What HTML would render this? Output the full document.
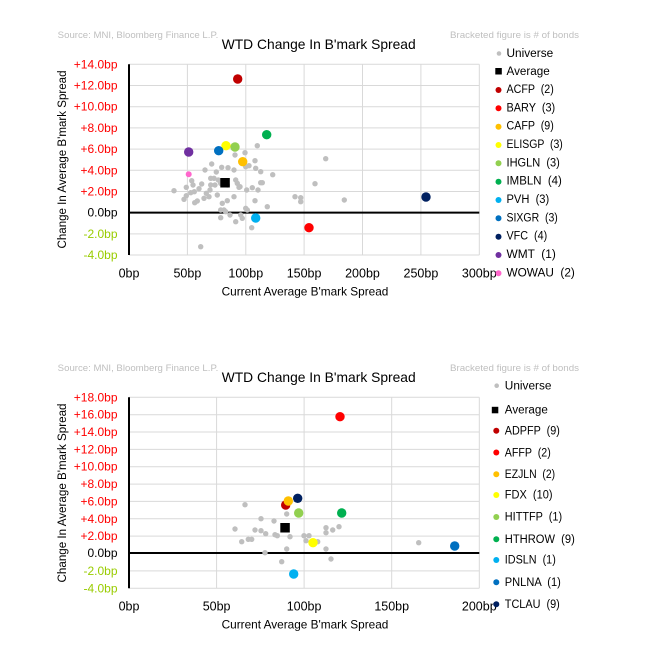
<!DOCTYPE html>
<html><head><meta charset="utf-8">
<style>
html,body{margin:0;padding:0;background:#fff;}
svg{display:block;}
text{font-family:"Liberation Sans",sans-serif;}
</style></head>
<body>
<svg width="649" height="663" viewBox="0 0 649 663" xmlns="http://www.w3.org/2000/svg">
<rect width="649" height="663" fill="#fff"/>

<!-- ================= CHART 1 ================= -->
<g>
<text x="57.7" y="35.3" font-size="9.5" fill="#BFBFBF" dominant-baseline="central" textLength="160.6" lengthAdjust="spacingAndGlyphs">Source: MNI, Bloomberg Finance L.P.</text>
<text x="450" y="35.3" font-size="9.5" fill="#BFBFBF" dominant-baseline="central" textLength="129" lengthAdjust="spacingAndGlyphs">Bracketed figure is # of bonds</text>
<text x="221.7" y="44" font-size="14" fill="#000" dominant-baseline="central" textLength="194" lengthAdjust="spacingAndGlyphs">WTD Change In B'mark Spread</text>

<!-- grid -->
<g stroke="#D9D9D9" stroke-width="1">
<line x1="129" y1="64.3" x2="479.3" y2="64.3"/>
<line x1="129" y1="85.5" x2="479.3" y2="85.5"/>
<line x1="129" y1="106.7" x2="479.3" y2="106.7"/>
<line x1="129" y1="127.9" x2="479.3" y2="127.9"/>
<line x1="129" y1="149.1" x2="479.3" y2="149.1"/>
<line x1="129" y1="170.3" x2="479.3" y2="170.3"/>
<line x1="129" y1="191.5" x2="479.3" y2="191.5"/>
<line x1="129" y1="233.9" x2="479.3" y2="233.9"/>
<line x1="129" y1="255" x2="479.3" y2="255"/>
<line x1="187.4" y1="64.3" x2="187.4" y2="255"/>
<line x1="245.8" y1="64.3" x2="245.8" y2="255"/>
<line x1="304.1" y1="64.3" x2="304.1" y2="255"/>
<line x1="362.5" y1="64.3" x2="362.5" y2="255"/>
<line x1="420.9" y1="64.3" x2="420.9" y2="255"/>
<line x1="479.3" y1="64.3" x2="479.3" y2="255"/>
</g>
<line x1="129" y1="212.6" x2="479.3" y2="212.6" stroke="#000" stroke-width="2"/>
<line x1="129" y1="64.3" x2="129" y2="255" stroke="#000" stroke-width="2"/>

<!-- y labels -->
<g font-size="12" text-anchor="end" dominant-baseline="central">
<text x="117.5" y="64.3" fill="#FF0000">+14.0bp</text>
<text x="117.5" y="85.5" fill="#FF0000">+12.0bp</text>
<text x="117.5" y="106.7" fill="#FF0000">+10.0bp</text>
<text x="117.5" y="127.9" fill="#FF0000">+8.0bp</text>
<text x="117.5" y="149.1" fill="#FF0000">+6.0bp</text>
<text x="117.5" y="170.3" fill="#FF0000">+4.0bp</text>
<text x="117.5" y="191.5" fill="#FF0000">+2.0bp</text>
<text x="117.5" y="212.6" fill="#000">0.0bp</text>
<text x="117.5" y="233.9" fill="#99CC00">-2.0bp</text>
<text x="117.5" y="255" fill="#99CC00">-4.0bp</text>
</g>
<!-- x labels -->
<g font-size="12.5" text-anchor="middle" dominant-baseline="central" fill="#000">
<text x="129" y="273.3">0bp</text>
<text x="187.4" y="273.3">50bp</text>
<text x="245.8" y="273.3">100bp</text>
<text x="304.1" y="273.3">150bp</text>
<text x="362.5" y="273.3">200bp</text>
<text x="420.9" y="273.3">250bp</text>
<text x="479.3" y="273.3">300bp</text>
</g>
<text x="305" y="292" font-size="11.7" text-anchor="middle" dominant-baseline="central" textLength="166.7" lengthAdjust="spacingAndGlyphs">Current Average B'mark Spread</text>
<text transform="translate(63,159.5) rotate(-90)" x="0" y="0" font-size="11.5" text-anchor="middle" dominant-baseline="central" textLength="178" lengthAdjust="spacingAndGlyphs">Change In Average B'mark Spread</text>

<!-- universe dots -->
<g fill="#BFBFBF">
<circle cx="174" cy="190.7" r="2.7"/><circle cx="184" cy="199.3" r="2.7"/><circle cx="186.3" cy="195.7" r="2.7"/><circle cx="186.3" cy="187.3" r="2.7"/>
<circle cx="190.7" cy="192.7" r="2.7"/><circle cx="191.7" cy="180.7" r="2.7"/><circle cx="193" cy="185" r="2.7"/><circle cx="194.3" cy="191.7" r="2.7"/>
<circle cx="194.7" cy="202.7" r="2.7"/><circle cx="197.3" cy="201" r="2.7"/><circle cx="199" cy="188.7" r="2.7"/><circle cx="201.7" cy="184" r="2.7"/>
<circle cx="204" cy="198.3" r="2.7"/><circle cx="206.3" cy="193.3" r="2.7"/><circle cx="209" cy="196.7" r="2.7"/><circle cx="210" cy="190" r="2.7"/>
<circle cx="205" cy="170" r="2.7"/><circle cx="211.7" cy="164" r="2.7"/><circle cx="216.3" cy="172" r="2.7"/><circle cx="210.7" cy="178.3" r="2.7"/>
<circle cx="214" cy="178.3" r="2.7"/><circle cx="215" cy="185" r="2.7"/><circle cx="210.7" cy="185" r="2.7"/><circle cx="217.3" cy="195" r="2.7"/>
<circle cx="221.7" cy="167.3" r="2.7"/><circle cx="228" cy="167.7" r="2.7"/><circle cx="234" cy="170" r="2.7"/><circle cx="218.3" cy="180" r="2.7"/>
<circle cx="220.7" cy="183.3" r="2.7"/><circle cx="227.3" cy="185" r="2.7"/><circle cx="235.7" cy="180" r="2.7"/><circle cx="237.3" cy="183.3" r="2.7"/>
<circle cx="239" cy="187.3" r="2.7"/><circle cx="234" cy="196.7" r="2.7"/><circle cx="222.3" cy="203.3" r="2.7"/><circle cx="227.3" cy="200.7" r="2.7"/>
<circle cx="220.7" cy="210" r="2.7"/><circle cx="224" cy="210" r="2.7"/><circle cx="225.7" cy="211.7" r="2.7"/><circle cx="230" cy="215" r="2.7"/>
<circle cx="220.7" cy="217.7" r="2.7"/><circle cx="235.7" cy="221.7" r="2.7"/><circle cx="240.7" cy="215" r="2.7"/><circle cx="242.3" cy="218.3" r="2.7"/>
<circle cx="245.7" cy="208.3" r="2.7"/><circle cx="247.3" cy="210" r="2.7"/><circle cx="246.7" cy="190" r="2.7"/><circle cx="252.3" cy="187.7" r="2.7"/>
<circle cx="255" cy="200.7" r="2.7"/><circle cx="258" cy="190" r="2.7"/><circle cx="255" cy="160.7" r="2.7"/><circle cx="255.7" cy="168.3" r="2.7"/>
<circle cx="260.7" cy="182.7" r="2.7"/><circle cx="262.3" cy="182.7" r="2.7"/><circle cx="257.3" cy="145.7" r="2.7"/><circle cx="245" cy="152.7" r="2.7"/>
<circle cx="235" cy="155" r="2.7"/><circle cx="245.7" cy="166.7" r="2.7"/><circle cx="251.7" cy="227.7" r="2.7"/><circle cx="200.7" cy="246.7" r="2.7"/>
<circle cx="267.3" cy="206.7" r="2.7"/><circle cx="249" cy="165.7" r="2.7"/><circle cx="260.7" cy="171.7" r="2.7"/><circle cx="272.7" cy="174.7" r="2.7"/>
<circle cx="325.7" cy="158.7" r="2.7"/><circle cx="315" cy="183.7" r="2.7"/><circle cx="240" cy="186.7" r="2.7"/><circle cx="295" cy="196.7" r="2.7"/>
<circle cx="300.7" cy="197.7" r="2.7"/><circle cx="300.7" cy="201.7" r="2.7"/><circle cx="344.3" cy="200" r="2.7"/>
</g>
<rect x="220.3" y="178" width="9.5" height="9.5" fill="#000"/>
<circle cx="188.7" cy="174.3" r="3" fill="#FF66CC"/>
<circle cx="237.7" cy="79" r="4.7" fill="#C00000"/>
<circle cx="309" cy="227.7" r="4.7" fill="#FF0000"/>
<circle cx="242.7" cy="161.7" r="4.7" fill="#FFC000"/>
<circle cx="226" cy="145.7" r="4.7" fill="#FFFF00"/>
<circle cx="235" cy="147" r="4.7" fill="#92D050"/>
<circle cx="266.7" cy="134.7" r="4.7" fill="#00B050"/>
<circle cx="255.7" cy="218" r="4.7" fill="#00B0F0"/>
<circle cx="218.7" cy="150.7" r="4.7" fill="#0070C0"/>
<circle cx="426" cy="197" r="4.7" fill="#002060"/>
<circle cx="188.7" cy="152" r="4.7" fill="#7030A0"/>

<!-- legend 1 -->
<circle cx="499" cy="53.5" r="2.3" fill="#BFBFBF"/>
<rect x="495.3" y="68" width="6.5" height="6.5" fill="#000"/>
<circle cx="498.5" cy="90" r="3" fill="#C00000"/>
<circle cx="498.5" cy="108.3" r="3" fill="#FF0000"/>
<circle cx="498.5" cy="126.7" r="3" fill="#FFC000"/>
<circle cx="498.5" cy="145" r="3" fill="#FFFF00"/>
<circle cx="498.5" cy="163.3" r="3" fill="#92D050"/>
<circle cx="498.5" cy="181.7" r="3" fill="#00B050"/>
<circle cx="498.5" cy="200" r="3" fill="#00B0F0"/>
<circle cx="498.5" cy="218.3" r="3" fill="#0070C0"/>
<circle cx="498.5" cy="236.7" r="3" fill="#002060"/>
<circle cx="498.5" cy="255" r="3" fill="#7030A0"/>
<circle cx="498.5" cy="273.3" r="3" fill="#FF66CC"/>
<g font-size="11.5" dominant-baseline="central" fill="#000" lengthAdjust="spacingAndGlyphs">
<text x="506.5" y="54" textLength="46.7" lengthAdjust="spacingAndGlyphs">Universe</text>
<text x="506.5" y="72" textLength="43.3" lengthAdjust="spacingAndGlyphs">Average</text>
<text x="506.5" y="90" textLength="47.3" lengthAdjust="spacingAndGlyphs" xml:space="preserve">ACFP  (2)</text>
<text x="506.5" y="108.3" textLength="48.7" lengthAdjust="spacingAndGlyphs" xml:space="preserve">BARY  (3)</text>
<text x="506.5" y="126.7" textLength="47.3" lengthAdjust="spacingAndGlyphs" xml:space="preserve">CAFP  (9)</text>
<text x="506.5" y="145" textLength="56.3" lengthAdjust="spacingAndGlyphs" xml:space="preserve">ELISGP  (3)</text>
<text x="506.5" y="163.3" textLength="53.3" lengthAdjust="spacingAndGlyphs" xml:space="preserve">IHGLN  (3)</text>
<text x="506.5" y="181.7" textLength="55.3" lengthAdjust="spacingAndGlyphs" xml:space="preserve">IMBLN  (4)</text>
<text x="506.5" y="200" textLength="42.7" lengthAdjust="spacingAndGlyphs" xml:space="preserve">PVH  (3)</text>
<text x="506.5" y="218.3" textLength="51.3" lengthAdjust="spacingAndGlyphs" xml:space="preserve">SIXGR  (3)</text>
<text x="506.5" y="236.7" textLength="40.7" lengthAdjust="spacingAndGlyphs" xml:space="preserve">VFC  (4)</text>
<text x="506.5" y="255" textLength="49.3" lengthAdjust="spacingAndGlyphs" xml:space="preserve">WMT  (1)</text>
<text x="506.5" y="273.3" textLength="68.3" lengthAdjust="spacingAndGlyphs" xml:space="preserve">WOWAU  (2)</text>
</g>
</g>

<!-- ================= CHART 2 ================= -->
<g>
<text x="57.7" y="368.3" font-size="9.5" fill="#BFBFBF" dominant-baseline="central" textLength="160.6" lengthAdjust="spacingAndGlyphs">Source: MNI, Bloomberg Finance L.P.</text>
<text x="450" y="368.3" font-size="9.5" fill="#BFBFBF" dominant-baseline="central" textLength="129" lengthAdjust="spacingAndGlyphs">Bracketed figure is # of bonds</text>
<text x="221.7" y="377" font-size="14" fill="#000" dominant-baseline="central" textLength="194" lengthAdjust="spacingAndGlyphs">WTD Change In B'mark Spread</text>

<g stroke="#D9D9D9" stroke-width="1">
<line x1="129" y1="397.3" x2="479.3" y2="397.3"/>
<line x1="129" y1="414.7" x2="479.3" y2="414.7"/>
<line x1="129" y1="432" x2="479.3" y2="432"/>
<line x1="129" y1="449.4" x2="479.3" y2="449.4"/>
<line x1="129" y1="466.7" x2="479.3" y2="466.7"/>
<line x1="129" y1="484.1" x2="479.3" y2="484.1"/>
<line x1="129" y1="501.4" x2="479.3" y2="501.4"/>
<line x1="129" y1="518.8" x2="479.3" y2="518.8"/>
<line x1="129" y1="536.1" x2="479.3" y2="536.1"/>
<line x1="129" y1="570.9" x2="479.3" y2="570.9"/>
<line x1="129" y1="588.3" x2="479.3" y2="588.3"/>
<line x1="216.6" y1="397.3" x2="216.6" y2="588.3"/>
<line x1="304.1" y1="397.3" x2="304.1" y2="588.3"/>
<line x1="391.7" y1="397.3" x2="391.7" y2="588.3"/>
<line x1="479.3" y1="397.3" x2="479.3" y2="588.3"/>
</g>
<line x1="129" y1="553" x2="479.3" y2="553" stroke="#000" stroke-width="2"/>
<line x1="129" y1="397.3" x2="129" y2="588.3" stroke="#000" stroke-width="2"/>

<g font-size="12" text-anchor="end" dominant-baseline="central">
<text x="117.5" y="397.3" fill="#FF0000">+18.0bp</text>
<text x="117.5" y="414.7" fill="#FF0000">+16.0bp</text>
<text x="117.5" y="432" fill="#FF0000">+14.0bp</text>
<text x="117.5" y="449.4" fill="#FF0000">+12.0bp</text>
<text x="117.5" y="466.7" fill="#FF0000">+10.0bp</text>
<text x="117.5" y="484.1" fill="#FF0000">+8.0bp</text>
<text x="117.5" y="501.4" fill="#FF0000">+6.0bp</text>
<text x="117.5" y="518.8" fill="#FF0000">+4.0bp</text>
<text x="117.5" y="536.1" fill="#FF0000">+2.0bp</text>
<text x="117.5" y="553" fill="#000">0.0bp</text>
<text x="117.5" y="570.9" fill="#99CC00">-2.0bp</text>
<text x="117.5" y="588.3" fill="#99CC00">-4.0bp</text>
</g>
<g font-size="12.5" text-anchor="middle" dominant-baseline="central" fill="#000">
<text x="129" y="606.7">0bp</text>
<text x="216.6" y="606.7">50bp</text>
<text x="304.1" y="606.7">100bp</text>
<text x="391.7" y="606.7">150bp</text>
<text x="479.3" y="606.7">200bp</text>
</g>
<text x="305" y="625" font-size="11.7" text-anchor="middle" dominant-baseline="central" textLength="166.7" lengthAdjust="spacingAndGlyphs">Current Average B'mark Spread</text>
<text transform="translate(63,493) rotate(-90)" x="0" y="0" font-size="11.5" text-anchor="middle" dominant-baseline="central" textLength="179" lengthAdjust="spacingAndGlyphs">Change In Average B'mark Spread</text>

<g fill="#BFBFBF">
<circle cx="245" cy="504.7" r="2.7"/><circle cx="235" cy="529" r="2.7"/><circle cx="241.7" cy="541.7" r="2.7"/><circle cx="248.3" cy="539.3" r="2.7"/>
<circle cx="251.7" cy="539.3" r="2.7"/><circle cx="255" cy="530" r="2.7"/><circle cx="261" cy="530.7" r="2.7"/><circle cx="265.7" cy="533.7" r="2.7"/>
<circle cx="261" cy="518.7" r="2.7"/><circle cx="274" cy="521" r="2.7"/><circle cx="275" cy="534.7" r="2.7"/><circle cx="277.3" cy="535.7" r="2.7"/>
<circle cx="286.7" cy="514" r="2.7"/><circle cx="290" cy="536.7" r="2.7"/><circle cx="286.7" cy="549" r="2.7"/><circle cx="265" cy="552.7" r="2.7"/>
<circle cx="281.7" cy="561.7" r="2.7"/><circle cx="304" cy="535.7" r="2.7"/><circle cx="309" cy="535.7" r="2.7"/><circle cx="306" cy="540.7" r="2.7"/>
<circle cx="317.7" cy="541.7" r="2.7"/><circle cx="326" cy="527.7" r="2.7"/><circle cx="326" cy="532.7" r="2.7"/><circle cx="332.7" cy="530" r="2.7"/>
<circle cx="339" cy="526.7" r="2.7"/><circle cx="326" cy="549" r="2.7"/><circle cx="331" cy="559" r="2.7"/><circle cx="418.7" cy="542.7" r="2.7"/>
</g>
<rect x="280.3" y="523" width="9.5" height="9.5" fill="#000"/>
<circle cx="285.7" cy="505" r="4.7" fill="#C00000"/>
<circle cx="340" cy="416.7" r="4.7" fill="#FF0000"/>
<circle cx="288.3" cy="501" r="4.7" fill="#FFC000"/>
<circle cx="313" cy="542.7" r="4.7" fill="#FFFF00"/>
<circle cx="298.7" cy="513" r="4.7" fill="#92D050"/>
<circle cx="341.7" cy="513" r="4.7" fill="#00B050"/>
<circle cx="293.7" cy="574" r="4.7" fill="#00B0F0"/>
<circle cx="454.7" cy="546" r="4.7" fill="#0070C0"/>
<circle cx="297.7" cy="498.3" r="4.7" fill="#002060"/>

<!-- legend 2 -->
<circle cx="496.7" cy="385.7" r="2.3" fill="#BFBFBF"/>
<rect x="491.8" y="406.8" width="6.5" height="6.5" fill="#000"/>
<circle cx="496.3" cy="430.7" r="3" fill="#C00000"/>
<circle cx="496.3" cy="452.5" r="3" fill="#FF0000"/>
<circle cx="496.3" cy="474.2" r="3" fill="#FFC000"/>
<circle cx="496.3" cy="495" r="3" fill="#FFFF00"/>
<circle cx="496.3" cy="517" r="3" fill="#92D050"/>
<circle cx="496.3" cy="539.2" r="3" fill="#00B050"/>
<circle cx="496.3" cy="560" r="3" fill="#00B0F0"/>
<circle cx="496.3" cy="582.2" r="3" fill="#0070C0"/>
<circle cx="496.3" cy="604.2" r="3" fill="#002060"/>
<g font-size="11.5" dominant-baseline="central" fill="#000">
<text x="504.8" y="386.5" textLength="46.7" lengthAdjust="spacingAndGlyphs">Universe</text>
<text x="504.8" y="410.5" textLength="43" lengthAdjust="spacingAndGlyphs">Average</text>
<text x="504.8" y="431.7" textLength="55" lengthAdjust="spacingAndGlyphs" xml:space="preserve">ADPFP  (9)</text>
<text x="504.8" y="453.3" textLength="46" lengthAdjust="spacingAndGlyphs" xml:space="preserve">AFFP  (2)</text>
<text x="504.8" y="475" textLength="50.3" lengthAdjust="spacingAndGlyphs" xml:space="preserve">EZJLN  (2)</text>
<text x="504.8" y="495.7" textLength="47.7" lengthAdjust="spacingAndGlyphs" xml:space="preserve">FDX  (10)</text>
<text x="504.8" y="517.7" textLength="57.3" lengthAdjust="spacingAndGlyphs" xml:space="preserve">HITTFP  (1)</text>
<text x="504.8" y="540" textLength="70" lengthAdjust="spacingAndGlyphs" xml:space="preserve">HTHROW  (9)</text>
<text x="504.8" y="560.7" textLength="51" lengthAdjust="spacingAndGlyphs" xml:space="preserve">IDSLN  (1)</text>
<text x="504.8" y="583" textLength="56" lengthAdjust="spacingAndGlyphs" xml:space="preserve">PNLNA  (1)</text>
<text x="504.8" y="605" textLength="55" lengthAdjust="spacingAndGlyphs" xml:space="preserve">TCLAU  (9)</text>
</g>
</g>
</svg>
</body></html>
